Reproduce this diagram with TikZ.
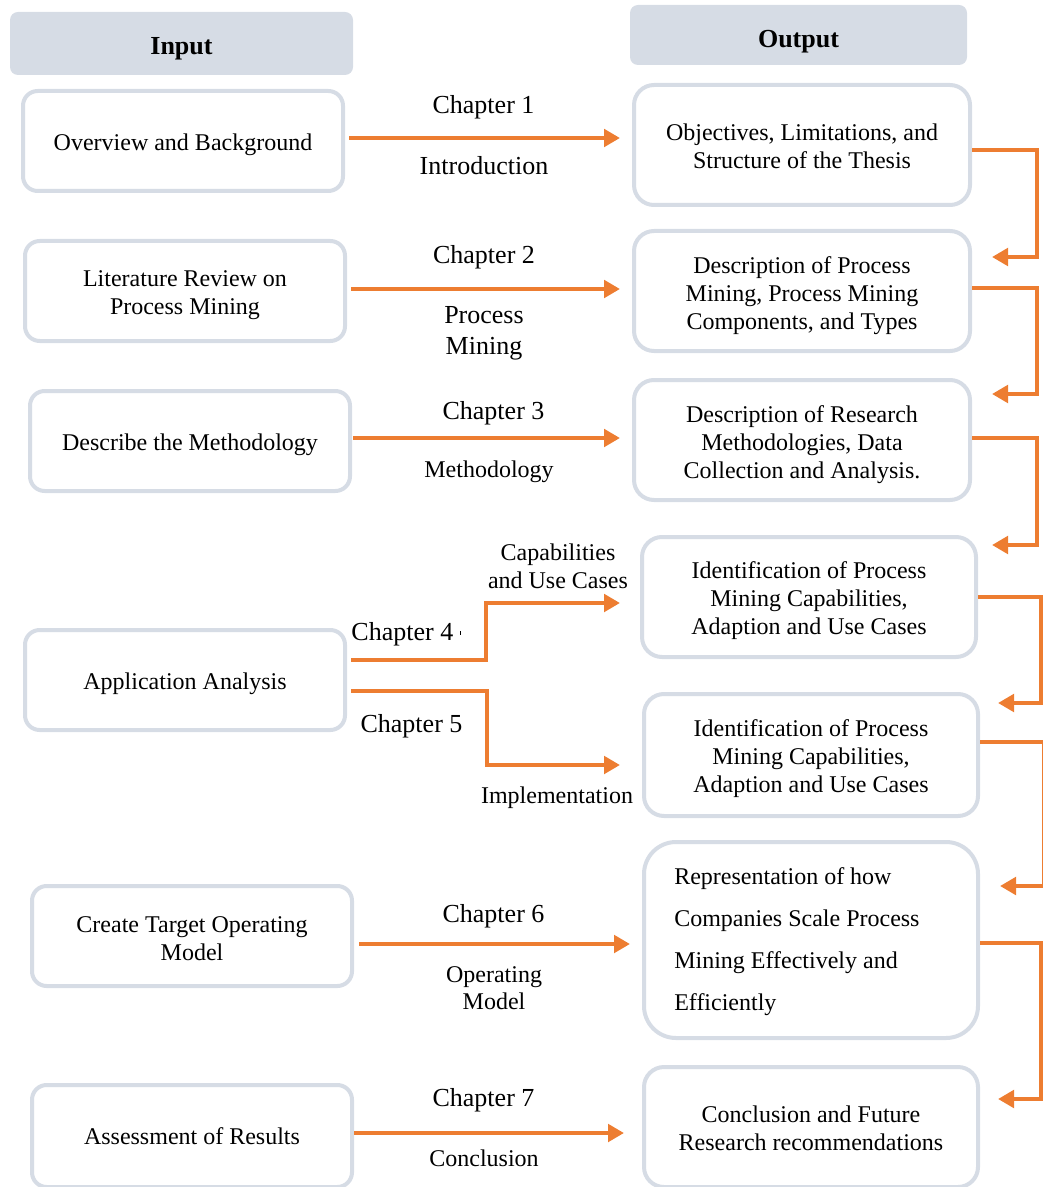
\documentclass[tikz,border=0pt]{standalone}
\usepackage{fontspec}
\setmainfont{Liberation Serif}
\usetikzlibrary{arrows.meta,calc}
\definecolor{boxline}{HTML}{D6DCE5}
\definecolor{flow}{HTML}{ED7D31}

\begin{document}
\begin{tikzpicture}[x=0.75pt,y=-0.75pt,
  sz/.style 2 args={minimum width=0.75pt*#1, minimum height=0.75pt*#2},
  head/.style={fill=boxline, rounded corners=6pt, inner sep=0pt},
  headtxt/.style={inner sep=0pt, font=\fontsize{19.5}{23}\selectfont\bfseries},
  card/.style={draw=boxline, line width=3pt, fill=white, rounded corners=11pt, inner sep=0pt},
  tallcard/.style={card, rounded corners=15pt},
  txt/.style={inner sep=0pt, align=center, font=\fontsize{18}{21}\selectfont},
  flowline/.style={draw=flow, line width=3.6pt, line join=miter,
    -{Triangle[length=12pt,width=13pt]}},
  big/.style={font=\fontsize{19.5}{23.25}\selectfont, align=center, inner sep=0pt},
  small/.style={font=\fontsize{18}{21}\selectfont, align=center, inner sep=0pt}]

\useasboundingbox (0,0) rectangle (1043,1187);

% column headers
\node[head, sz={343}{63}] (hin)  at (181.5,43.5) {};
\node[head, sz={337}{60}] (hout) at (798.5,35)   {};
\node[headtxt] (hint)  at ([yshift=-3.75pt]hin)  {Input};
\node[headtxt] (houtt) at ([yshift=-5.25pt]hout) {Output};

% input column
\node[card, sz={320}{100}] (l1) at (183,141)  {};
\node[card, sz={320}{100}] (l2) at (185,291)  {};
\node[card, sz={320}{100}] (l3) at (190,441)  {};
\node[card, sz={320}{100}] (l4) at (185,680)  {};
\node[card, sz={320}{100}] (l5) at (192,936)  {};
\node[card, sz={320}{102}] (l6) at (192,1136) {};
\node[txt] (l1t) at ([yshift=-3pt]l1)   {Overview and Background};
\node[txt] (l2t) at ([yshift=-3.4pt]l2) {Literature Review on\\Process Mining};
\node[txt] (l3t) at ([yshift=-3pt]l3)   {Describe the Methodology};
\node[txt] (l4t) at ([yshift=-3pt]l4)   {Application Analysis};
\node[txt] (l5t) at ([yshift=-2.3pt]l5) {Create Target Operating\\Model};
\node[txt] (l6t) at ([yshift=0pt]l6)    {Assessment of Results};

% output column
\node[tallcard, sz={336}{120}] (r1) at (802,145)  {};
\node[tallcard, sz={336}{120}] (r2) at (802,291)  {};
\node[tallcard, sz={336}{120}] (r3) at (802,440)  {};
\node[tallcard, sz={334}{120}] (r4) at (809,597)  {};
\node[tallcard, sz={334}{122}] (r5) at (811,755)  {};
\node[card, rounded corners=24pt, sz={334}{196}] (r6) at (811,940) {};
\node[tallcard, sz={334}{120}] (r7) at (811,1127) {};
\node[txt] (r1t) at ([yshift=-0.8pt]r1) {Objectives, Limitations, and\\Structure of the Thesis};
\node[txt] (r2t) at ([yshift=-3.8pt]r2) {Description of Process\\Mining, Process Mining\\Components, and Types};
\node[txt] (r3t) at ([yshift=-3.4pt]r3) {Description of Research\\Methodologies, Data\\Collection and Analysis.};
\node[txt] (r4t) at ([yshift=-3pt]r4)   {Identification of Process\\Mining Capabilities,\\Adaption and Use Cases};
\node[txt] (r5t) at ([yshift=-3pt]r5)   {Identification of Process\\Mining Capabilities,\\Adaption and Use Cases};
\node[anchor=west, align=left, inner sep=0pt, font=\fontsize{18}{31.5}\selectfont]
  (r6t) at (674,942) {Representation of how\\Companies Scale Process\\Mining Effectively and\\Efficiently};
\node[txt] (r7t) at ([yshift=-0.8pt]r7) {Conclusion and Future\\Research recommendations};

% chapter connectors
\draw[flowline, shorten <=3pt, shorten >=9pt] (l1.east |- 0,138) -- (r1.west |- 0,138);
\draw[flowline, shorten <=3pt, shorten >=9pt] (l2.east |- 0,289) -- (r2.west |- 0,289);
\draw[flowline, shorten <=1pt, shorten >=9pt] (l3.east |- 0,438) -- (r3.west |- 0,438);
\coordinate (k4) at (486,603);
\draw[flowline, shorten <=3pt] (l4.east |- 0,660) -| (k4) -- ($(r4.west |- k4)+(-20,0)$);
\coordinate (k5) at (487,765);
\draw[flowline, shorten <=3pt] (l4.east |- 0,691) -| (k5) -- ($(r5.west |- k5)+(-22,0)$);
\draw[flowline, shorten <=4pt, shorten >=9pt] (l5.east |- 0,944) -- (r6.west |- 0,944);
\draw[flowline, shorten <=0pt, shorten >=13.5pt] (l6.east |- 0,1133) -- (r7.west |- 0,1133);

% chapter labels
\node[big]   (c1)  at (483.5,107) {Chapter 1};
\node[big]   (c1b) at (484,166)   {Introduction};
\node[big]   (c2)  at (484,257)   {Chapter 2};
\node[big]   (c2b) at (484,333.5) {Process\\Mining};
\node[big]   (c3)  at (493.5,413) {Chapter 3};
\node[small] (c3b) at (489,472)   {Methodology};
\node[small] (c4b) at (558,566)   {Capabilities\\and Use Cases};
\node[big]   (c4)  at (406,634)   {Chapter 4 \rule[4pt]{0.6pt}{3pt}};
\node[big]   (c5)  at (411.5,726) {Chapter 5};
\node[small] (c5b) at (557,798)   {Implementation};
\node[big]   (c6)  at (493.5,916) {Chapter 6};
\node[small, font=\fontsize{18}{20.25}\selectfont] (c6b) at (494,988) {Operating\\Model};
\node[big]   (c7)  at (483.5,1100){Chapter 7};
\node[small] (c7b) at (484,1158)  {Conclusion};

% links down the output column
\coordinate (t1) at (992,257);
\coordinate (t2) at (992,394);
\coordinate (t3) at (992,545);
\coordinate (t4) at (998,703);
\coordinate (t5) at (1000,886);
\coordinate (t6) at (998,1099);
\draw[flowline] (r1.east |- 0,150) -- (1037,150) |- (t1);
\draw[flowline] (r2.east |- 0,288) -- (1037,288) |- (t2);
\draw[flowline] (r3.east |- 0,438) -- (1037,438) |- (t3);
\draw[flowline] (r4.east |- 0,597) -- (1041,597) |- (t4);
\draw[draw=flow, line width=3.6pt] (r5.east |- 0,742) -- (1043,742);
\draw[draw=flow, line width=1pt] (1042.3,742) -- (1042.3,886);
\draw[flowline] (1043,886) -- (t5);
\draw[flowline] (r6.east |- 0,943) -- (1041,943) |- (t6);

\end{tikzpicture}
\end{document}
